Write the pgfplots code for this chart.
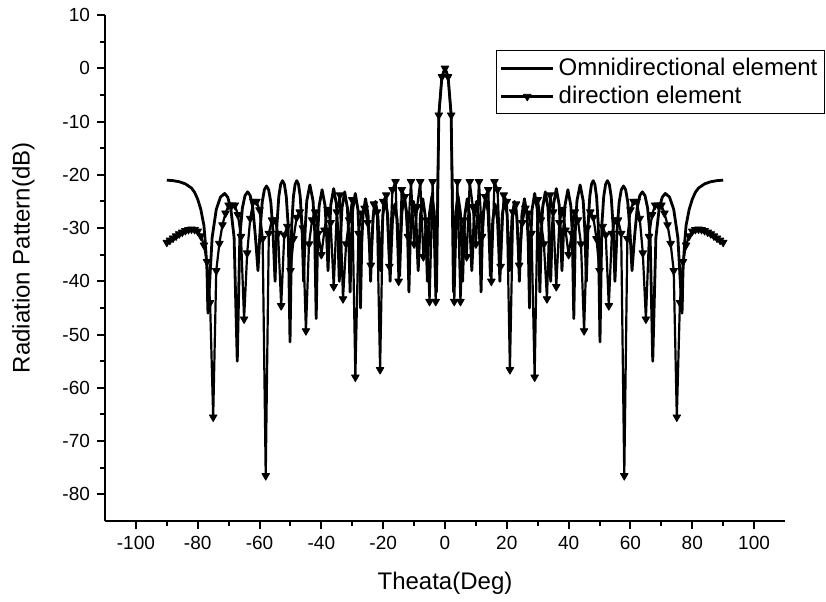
\documentclass[border=0pt]{standalone}
\usepackage{fontspec}
\setmainfont{Liberation Sans}
\usepackage{pgfplots}
\pgfplotsset{compat=1.18}

\begin{document}
\begin{tikzpicture}
\useasboundingbox (0,0) rectangle (413pt,300.5pt);
\begin{axis}[
  at={(52.5pt,40pt)}, anchor=south west,
  width=340pt, height=253pt, scale only axis,
  xmin=-110, xmax=110, ymin=-85, ymax=10,
  axis x line*=bottom, axis y line*=left,
  axis line style={line width=1pt},
  xtick={-100,-80,...,100}, ytick={-80,-70,...,10},
  minor x tick num=1, minor y tick num=1,
  tick align=outside, major tick length=4pt, minor tick length=2.5pt,
  every tick/.style={black, line width=1pt},
  /pgf/number format/assume math mode=true,
  tick label style={font=\fontsize{9.5}{11}\selectfont},
  xlabel={Theata(Deg)}, ylabel={Radiation Pattern(dB)},
  label style={font=\fontsize{12}{14}\selectfont},
  xlabel style={at={(axis description cs:0.5,-0.1225)}, anchor=center},
  ylabel style={at={(axis description cs:-0.12,0.52)}, anchor=center},
  legend style={at={(1.0588,0.93)}, anchor=north east, draw=black, line width=0.5pt,
    font=\fontsize{12}{14}\selectfont, inner sep=1.5pt, row sep=0pt},
  legend cell align=left,
  legend image code/.code={\draw[mark repeat=2,mark phase=2,#1] plot coordinates {(0pt,0pt) (13pt,0pt) (26pt,0pt)};},
]
% omnidirectional element
\addplot[black, line width=1.4pt, line join=round, no markers] coordinates {
(-90,-21.0) (-88,-21.1) (-86,-21.3) (-84,-21.7) (-82,-22.5) (-81,-23.3) (-80,-24.6) (-79,-26.5) (-78,-29.5) (-77.5,-33) (-77,-38) (-76.69,-46)
(-75.34,-31.8) (-74.0,-26.5) (-72.65,-24.2) (-71.3,-23.5) (-70.28,-24.2) (-69.26,-26.5) (-68.23,-31.8) (-67.21,-55)
(-66.37,-31.5) (-65.54,-26.2) (-64.70,-23.9) (-63.86,-23.2) (-63.02,-23.9) (-62.19,-26.2) (-61.35,-31.5) (-60.51,-38)
(-59.82,-30.4) (-59.13,-25.1) (-58.44,-22.8) (-57.75,-22.1) (-57.05,-22.8) (-56.36,-25.1) (-55.67,-30.4) (-54.98,-40)
(-54.38,-29.4) (-53.77,-24.1) (-53.17,-21.8) (-52.56,-21.1) (-51.96,-21.8) (-51.35,-24.1) (-50.75,-29.4) (-50.14,-51.4)
(-49.59,-29.4) (-49.04,-24.1) (-48.49,-21.8) (-47.94,-21.1) (-47.39,-21.8) (-46.84,-24.1) (-46.29,-29.4) (-45.74,-40)
(-45.23,-30.2) (-44.72,-24.9) (-43.71,-21.9) (-42.69,-24.9) (-42.18,-30.2) (-41.67,-47)
(-41.19,-31.1) (-40.71,-25.8) (-39.76,-22.8) (-38.80,-25.8) (-38.32,-31.1) (-37.84,-38)
(-37.39,-30.9) (-36.93,-25.6) (-36.02,-22.6) (-35.11,-25.6) (-34.66,-30.9) (-34.20,-40)
(-33.76,-31.5) (-33.33,-26.2) (-32.45,-23.2) (-31.58,-26.2) (-31.14,-31.5) (-30.70,-42)
(-30.28,-31.8) (-29.86,-26.5) (-29.02,-23.5) (-28.18,-26.5) (-27.76,-31.8) (-27.34,-45)
(-26.93,-32.8) (-26.52,-27.5) (-25.71,-24.5) (-24.89,-27.5) (-24.48,-32.8) (-24.07,-40)
(-23.67,-33.3) (-23.27,-28) (-22.48,-25) (-21.68,-28) (-21.28,-33.3) (-20.88,-38)
(-20.49,-32.8) (-20.10,-27.5) (-19.32,-24.5) (-18.54,-27.5) (-18.15,-32.8) (-17.76,-40)
(-17.38,-33.8) (-16.99,-28.5) (-16.23,-25.5) (-15.46,-28.5) (-15.07,-33.8) (-14.69,-39)
(-14.31,-32.3) (-13.94,-27) (-13.18,-24) (-12.43,-27) (-12.05,-32.3) (-11.67,-42)
(-11.30,-33.3) (-10.92,-28) (-10.17,-25) (-9.42,-28) (-9.05,-33.3) (-8.67,-38)
(-8.30,-32.8) (-7.93,-27.5) (-7.19,-24.5) (-6.44,-27.5) (-6.07,-32.8) (-5.70,-40)
(-5.33,-32.3) (-4.96,-27) (-4.23,-24) (-3.49,-27) (-3.12,-32.3) (-2.75,-42)
(-2,-8.8) (-1,-1.6) (0,0) (1,-1.6) (2,-8.8)
(2.75,-42) (3.12,-32.3) (3.49,-27) (4.23,-24) (4.96,-27) (5.33,-32.3)
(5.70,-40) (6.07,-32.8) (6.44,-27.5) (7.19,-24.5) (7.93,-27.5) (8.30,-32.8)
(8.67,-38) (9.05,-33.3) (9.42,-28) (10.17,-25) (10.92,-28) (11.30,-33.3)
(11.67,-42) (12.05,-32.3) (12.43,-27) (13.18,-24) (13.94,-27) (14.31,-32.3)
(14.69,-39) (15.07,-33.8) (15.46,-28.5) (16.23,-25.5) (16.99,-28.5) (17.38,-33.8)
(17.76,-40) (18.15,-32.8) (18.54,-27.5) (19.32,-24.5) (20.10,-27.5) (20.49,-32.8)
(20.88,-38) (21.28,-33.3) (21.68,-28) (22.48,-25) (23.27,-28) (23.67,-33.3)
(24.07,-40) (24.48,-32.8) (24.89,-27.5) (25.71,-24.5) (26.52,-27.5) (26.93,-32.8)
(27.34,-45) (27.76,-31.8) (28.18,-26.5) (29.02,-23.5) (29.86,-26.5) (30.28,-31.8)
(30.70,-42) (31.14,-31.5) (31.58,-26.2) (32.45,-23.2) (33.33,-26.2) (33.76,-31.5)
(34.20,-40) (34.66,-30.9) (35.11,-25.6) (36.02,-22.6) (36.93,-25.6) (37.39,-30.9)
(37.84,-38) (38.32,-31.1) (38.80,-25.8) (39.76,-22.8) (40.71,-25.8) (41.19,-31.1)
(41.67,-47) (42.18,-30.2) (42.69,-24.9) (43.71,-21.9) (44.72,-24.9) (45.23,-30.2)
(45.74,-40) (46.29,-29.4) (46.84,-24.1) (47.39,-21.8) (47.94,-21.1) (48.49,-21.8) (49.04,-24.1) (49.59,-29.4)
(50.14,-51.4) (50.75,-29.4) (51.35,-24.1) (51.96,-21.8) (52.56,-21.1) (53.17,-21.8) (53.77,-24.1) (54.38,-29.4)
(54.98,-40) (55.67,-30.4) (56.36,-25.1) (57.05,-22.8) (57.75,-22.1) (58.44,-22.8) (59.13,-25.1) (59.82,-30.4)
(60.51,-38) (61.35,-31.5) (62.19,-26.2) (63.02,-23.9) (63.86,-23.2) (64.70,-23.9) (65.54,-26.2) (66.37,-31.5)
(67.21,-55) (68.23,-31.8) (69.26,-26.5) (70.28,-24.2) (71.3,-23.5) (72.65,-24.2) (74.0,-26.5) (75.34,-31.8)
(76.69,-46) (77,-38) (77.5,-33) (78,-29.5) (79,-26.5) (80,-24.6) (81,-23.3) (82,-22.5) (84,-21.7) (86,-21.3) (88,-21.1) (90,-21.0)
};
\addlegendentry{Omnidirectional element}
% direction element
\addplot[black, line width=1.1pt, line join=round, mark=triangle*, mark size=2.2pt,
  mark options={rotate=180, solid, line width=0.4pt}] coordinates {
(-90,-32.7) (-89,-32.3) (-88,-31.9) (-87,-31.5) (-86,-31.1) (-85,-30.8) (-84,-30.5) (-83,-30.3) (-82,-30.2) (-81,-30.3)
(-80,-30.6) (-79,-31.5) (-78,-33.2) (-77,-36.3) (-76,-44) (-75,-65.5) (-74,-38) (-73,-32.9) (-72,-29.4) (-71,-27.2)
(-70,-25.7) (-69,-25.7) (-68,-25.7) (-67,-27.5) (-66,-31.6) (-65,-47.1) (-64,-34.7) (-63,-28.2) (-62,-25) (-61,-25)
(-60,-26.6) (-59,-32) (-58,-76.5) (-57,-31) (-56,-28.5) (-55,-28.5) (-54,-31) (-53,-44.6) (-52,-31.3) (-51,-29.7)
(-50,-38) (-49,-32) (-48,-28) (-47,-27) (-46,-30) (-45,-49.3) (-44,-33) (-43,-28.5) (-42,-27) (-41,-31)
(-40,-35) (-39,-30.4) (-38,-26.5) (-37,-29) (-36,-41) (-35,-27) (-34,-23.8) (-33,-43.3) (-32,-33) (-31,-28.5)
(-30,-24.7) (-29,-58) (-28,-31) (-27,-27.2) (-26,-26.3) (-25,-29) (-24,-37) (-23,-25.5) (-22,-27) (-21,-56.6)
(-20,-25) (-19,-23.8) (-18,-37.2) (-17,-22.8) (-16,-21.3) (-15,-40) (-14,-22.8) (-13,-24.1) (-12,-31.6) (-11,-21.3)
(-10,-33) (-9,-26) (-8,-21.3) (-7,-35.4) (-6,-28.5) (-5,-43.8) (-4,-21.3) (-3,-43.8) (-2,-8.8) (-1,-1.6)
(0,0)
(1,-1.6) (2,-8.8) (3,-43.8) (4,-21.3) (5,-43.8) (6,-28.5) (7,-35.4) (8,-21.3) (9,-26) (10,-33)
(11,-21.3) (12,-31.6) (13,-24.1) (14,-22.8) (15,-40) (16,-21.3) (17,-22.8) (18,-37.2) (19,-23.8) (20,-25)
(21,-56.6) (22,-27) (23,-25.5) (24,-37) (25,-29) (26,-26.3) (27,-27.2) (28,-31) (29,-58) (30,-24.7)
(31,-28.5) (32,-33) (33,-43.3) (34,-23.8) (35,-27) (36,-41) (37,-29) (38,-26.5) (39,-30.4) (40,-35)
(41,-31) (42,-27) (43,-28.5) (44,-33) (45,-49.3) (46,-30) (47,-27) (48,-28) (49,-32) (50,-38)
(51,-29.7) (52,-31.3) (53,-44.6) (54,-31) (55,-28.5) (56,-28.5) (57,-31) (58,-76.5) (59,-32) (60,-26.6)
(61,-25) (62,-25) (63,-28.2) (64,-34.7) (65,-47.1) (66,-31.6) (67,-27.5) (68,-25.7) (69,-25.7) (70,-25.7)
(71,-27.2) (72,-29.4) (73,-32.9) (74,-38) (75,-65.5) (76,-44) (77,-36.3) (78,-33.2) (79,-31.5) (80,-30.6)
(81,-30.3) (82,-30.2) (83,-30.3) (84,-30.5) (85,-30.8) (86,-31.1) (87,-31.5) (88,-31.9) (89,-32.3) (90,-32.7)
};
\addlegendentry{direction element}
\end{axis}
\end{tikzpicture}
\end{document}
